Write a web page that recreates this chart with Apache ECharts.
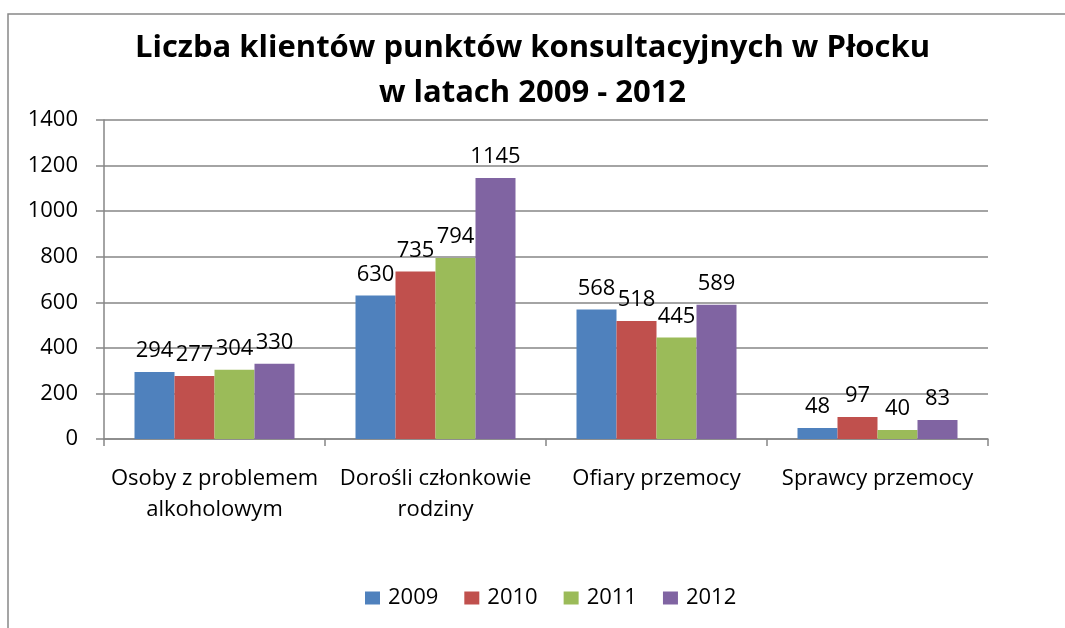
<!DOCTYPE html>
<html>
<head>
<meta charset="utf-8">
<script src="https://cdn.jsdelivr.net/npm/echarts@6/dist/echarts.min.js"></script>
<style>
  html, body { margin: 0; padding: 0; background: #fff; }
  #chart { width: 1065px; height: 628px; }
</style>
</head>
<body>
<div id="chart"></div>
<script>
// Liczba klientów punktów konsultacyjnych w Płocku, 2009 - 2012
const categories = [
    'Osoby z problemem\nalkoholowym',
    'Dorośli członkowie\nrodziny',
    'Ofiary przemocy',
    'Sprawcy przemocy'
];
const years = ['2009', '2010', '2011', '2012'];
const values2009 = [294, 630, 568, 48];
const values2010 = [277, 735, 518, 97];
const values2011 = [304, 794, 445, 40];
const values2012 = [330, 1145, 589, 83];

const COLORS = ['#4F81BD', '#C0504D', '#9BBB59', '#8064A2'];
const FONT = '"Open Sans", "Noto Sans", sans-serif';

const chart = echarts.init(document.getElementById('chart'), null, { renderer: 'canvas' });

const seriesData = [values2009, values2010, values2011, values2012];

const option = {
    backgroundColor: '#fff',
    animation: false,
    color: COLORS,
    title: {
        text: 'Liczba klientów punktów konsultacyjnych w Płocku\nw latach 2009 - 2012',
        left: 'center',
        top: 21,
        textStyle: { fontFamily: FONT, fontSize: 31, fontWeight: 'bold', color: '#000', lineHeight: 45 }
    },
    legend: {
        data: years,
        bottom: 14,
        left: 360,
        itemWidth: 15,
        itemHeight: 13,
        itemGap: 26,
        icon: 'rect',
        textStyle: { fontFamily: FONT, fontSize: 22, color: '#000', padding: [0, 0, 0, 3] }
    },
    grid: { left: 104, right: 77, top: 120, bottom: 189, containLabel: false },
    xAxis: {
        type: 'category',
        data: categories,
        axisLine: { lineStyle: { color: '#868686', width: 1.5 } },
        axisTick: { show: true, length: 7, lineStyle: { color: '#868686', width: 1.5 } },
        axisLabel: { fontFamily: FONT, fontSize: 22, color: '#000', margin: 24, lineHeight: 31, interval: 0 }
    },
    yAxis: {
        type: 'value',
        min: 0,
        max: 1400,
        interval: 200,
        axisLine: { show: true, lineStyle: { color: '#868686', width: 1.5 } },
        axisTick: { show: true, length: 8, lineStyle: { color: '#868686', width: 1.5 } },
        axisLabel: { fontFamily: FONT, fontSize: 22, color: '#000', margin: 26, formatter: v => String(v) },
        splitLine: { lineStyle: { color: '#868686', width: 1.5 } }
    },
    series: seriesData.map((vals, i) => ({
        name: years[i],
        type: 'bar',
        data: vals,
        barGap: '0%',
        barCategoryGap: '27.6%',
        itemStyle: { color: COLORS[i] },
        label: {
            show: true,
            position: 'top',
            distance: 10,
            fontFamily: FONT,
            fontSize: 22,
            color: '#000'
        }
    })),
    graphic: [
        {
            type: 'polyline',
            shape: { points: [[8, 628], [8, 14], [1065, 14]] },
            style: { stroke: '#888', lineWidth: 1.5, fill: null },
            silent: true
        }
    ]
};

chart.setOption(option);
</script>
</body>
</html>
